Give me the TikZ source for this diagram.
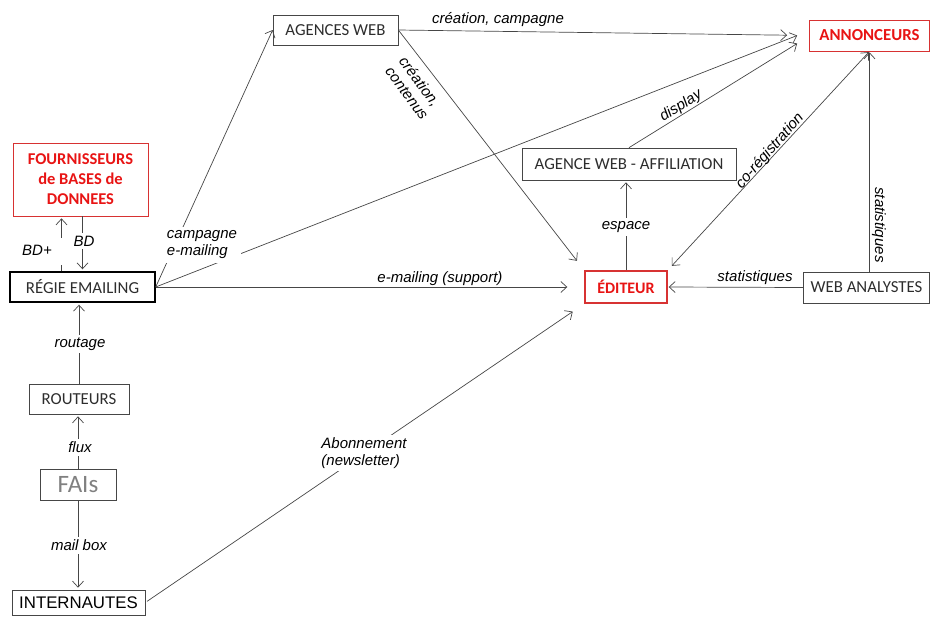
\documentclass[tikz,border=0pt]{standalone}
\usepackage{fontspec}
\setmainfont{Carlito}
\newfontfamily\lblfont{Liberation Sans}
\usetikzlibrary{arrows.meta,calc}
\definecolor{linegray}{RGB}{70,70,70}
\definecolor{boxred}{RGB}{215,50,50}
\definecolor{txtred}{RGB}{232,20,20}
\definecolor{txtgray}{RGB}{45,45,45}
\begin{document}
\begin{tikzpicture}[x=1pt,y=-1pt,
  box/.style={draw=linegray, line width=0.7pt, inner sep=0pt, text=txtgray,
    font=\fontsize{16.8}{20}\selectfont},
  redbox/.style={box, draw=boxred, text=txtred, font=\fontsize{16.8}{20}\selectfont\bfseries},
  lbl/.style={font=\lblfont\itshape\fontsize{15}{17}\selectfont, inner sep=1pt, text=black},
  gap/.style={lbl, fill=white, inner sep=3pt},
  conn/.style={draw=linegray, line width=0.7pt, -{Straight Barb[length=6pt,width=11pt]}},
  conn2/.style={draw=linegray, line width=0.7pt, {Straight Barb[length=6pt,width=11pt]}-{Straight Barb[length=6pt,width=11pt]}}]
\useasboundingbox (0,0) rectangle (931,616);

% nodes
\node[box, minimum width=125pt, minimum height=30pt] (agw) at (335.5,30) {AGENCES WEB};
\node[redbox, minimum width=120pt, minimum height=31pt] (ann) at (869.5,35.5) {ANNONCEURS};
\node[redbox, minimum width=135pt, minimum height=73pt, align=center,
  font=\fontsize{16.5}{20}\selectfont\bfseries] (four) at (80.5,179.5) {FOURNISSEURS\\de BASES de\\DONNEES};
\node[box, draw=black, line width=1.4pt, minimum width=145pt, minimum height=30pt] (regie) at (82.5,287) {RÉGIE EMAILING};
\node[box, minimum width=214pt, minimum height=32pt] (aff) at (629,164) {AGENCE WEB - AFFILIATION};
\node[redbox, line width=1.4pt, minimum width=82pt, minimum height=32pt,
  font=\fontsize{16}{20}\selectfont\bfseries] (edit) at (626,287) {ÉDITEUR};
\node[box, minimum width=126pt, minimum height=31pt] (wa) at (866.5,287.5) {WEB ANALYSTES};
\node[box, minimum width=100pt, minimum height=30pt] (rout) at (79,399) {ROUTEURS};
\node[box, minimum width=76pt, minimum height=31pt, text=gray, font=\fontsize{25}{28}\selectfont] (fai) at (78,485) {FAIs};
\node[box, text=black, minimum width=133pt, minimum height=25pt, font=\lblfont\fontsize{16.8}{20}\selectfont] (inter) at (78.5,602.5) {INTERNAUTES};

% connectors
\draw[conn] (regie.east) -- (agw.west);
\draw[conn, shorten >=22pt] (agw.east) -- (ann.west);
\draw[conn, shorten >=12pt] (agw.east) -- (edit.north west);
\draw[conn] (regie.east) -- ($(ann.west)+(-12,0)$);
\draw[conn] (aff.north) -- ($(ann.west)+(-12,8)$);
\draw[conn, shorten >=2pt] (edit.north) -- (edit.north |- aff.south);
\draw[conn2, shorten <=6pt, shorten >=1pt] (edit.north east) -- (ann.south);
\draw[conn, shorten >=1pt] (wa.north -| ann.south) -- (ann.south);
\draw[conn, shorten >=1pt] (wa.west) -- (edit.east);
\draw[conn, shorten >=17pt] (regie.east) -- (edit.west);
\draw[conn, shorten >=14pt, shorten <=2pt] (inter.east) -- (edit.south west);
\draw[conn, shorten >=2pt] (regie.north |- four.south) -- (regie.north);
\draw[conn, shorten >=2pt] ([xshift=-21pt]regie.north) -- ([xshift=-21pt]regie.north |- four.south);
\draw[conn, shorten >=2pt] (rout.north) -- (rout.north |- regie.south);
\draw[conn, shorten >=2pt] (fai.north) -- (fai.north |- rout.south);
\draw[conn, shorten >=2pt] (fai.south) -- (fai.south |- inter.north);

% labels
\node[gap, align=left, inner sep=4pt] (lcamp) at (202,245) {campagne\\e-mailing};
\node[lbl] (lcc) at (498,20) {création, campagne};
\node[lbl, align=left, rotate=-53.3] (lcont) at (414,88) {création,\\contenus};
\node[lbl, rotate=32] (ldisp) at (681,106) {display};
\node[lbl, rotate=49] (lcoreg) at (770,151) {co-régistration};
\node[lbl, rotate=-90] (lstat1) at (879,225) {statistiques};
\node[lbl] (lstat2) at (755,278) {statistiques};
\node[lbl] (lsupp) at (440,279) {e-mailing (support)};
\node[gap] (lesp) at (626,227) {espace};
\node[gap, align=left] (labo) at (364,453) {Abonnement\\(newsletter)};
\node[gap] (lbd) at (84,241) {BD};
\node[fill=white, inner sep=0pt, minimum width=4pt, minimum height=27pt] (gbdp) at (61,251) {};
\node[lbl] (lbdp) at (37,250) {BD+};
\node[gap] (lrout) at (80,344) {routage};
\node[gap] (lflux) at (80,447) {flux};
\node[gap] (lmail) at (79,545) {mail box};
\end{tikzpicture}
\end{document}
